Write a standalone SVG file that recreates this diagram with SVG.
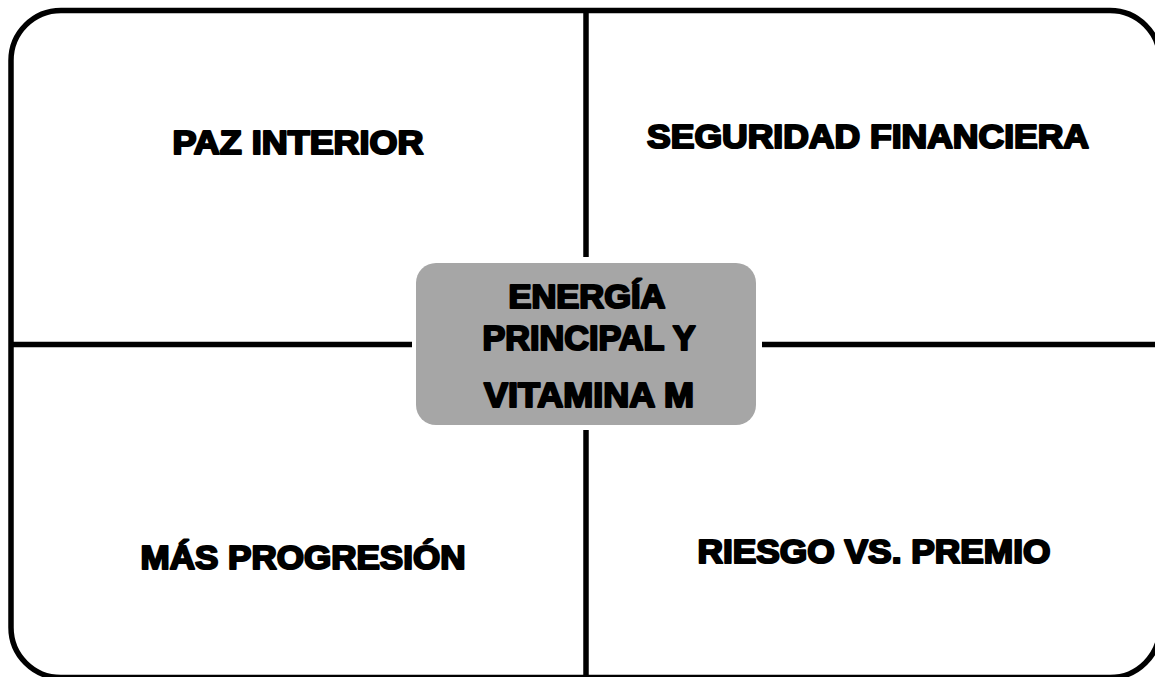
<svg xmlns="http://www.w3.org/2000/svg" width="1155" height="677" viewBox="0 0 1155 677">
<style>
.t{font-family:"Liberation Sans",Arial,sans-serif;font-weight:bold;fill:#000;stroke:#000;stroke-width:2.2;stroke-linejoin:round;text-anchor:middle;}
.ln{stroke:#000;stroke-width:5.5;fill:none;}
</style>
<rect x="0" y="0" width="1155" height="677" fill="#fff"/>
<g id="frame"><rect x="11" y="10.5" width="1149" height="667" rx="50" ry="50" class="ln"/></g>
<g id="connectors">
<line x1="586" y1="10" x2="586" y2="257" class="ln"/>
<line x1="586" y1="430" x2="586" y2="677" class="ln"/>
<line x1="11" y1="344.5" x2="412" y2="344.5" class="ln"/>
<line x1="762" y1="344.5" x2="1160" y2="344.5" class="ln"/>
</g>
<g id="center">
<rect x="416" y="263" width="340" height="162" rx="20" ry="20" fill="#a6a6a6"/>
<text class="t" x="587" y="308" font-size="33" textLength="157" lengthAdjust="spacingAndGlyphs">ENERGÍA</text>
<text class="t" x="589" y="350" font-size="35" textLength="213" lengthAdjust="spacingAndGlyphs">PRINCIPAL Y</text>
<text class="t" x="589" y="407" font-size="35" textLength="210" lengthAdjust="spacingAndGlyphs">VITAMINA M</text>
</g>
<g id="q1"><text class="t" x="298" y="154" font-size="34" textLength="251" lengthAdjust="spacingAndGlyphs">PAZ INTERIOR</text></g>
<g id="q2"><text class="t" x="868" y="148" font-size="34" textLength="442" lengthAdjust="spacingAndGlyphs">SEGURIDAD FINANCIERA</text></g>
<g id="q3"><text class="t" x="303" y="569" font-size="34" textLength="325" lengthAdjust="spacingAndGlyphs">MÁS PROGRESIÓN</text></g>
<g id="q4"><text class="t" x="874" y="563" font-size="34" textLength="353" lengthAdjust="spacingAndGlyphs">RIESGO VS. PREMIO</text></g>
</svg>
